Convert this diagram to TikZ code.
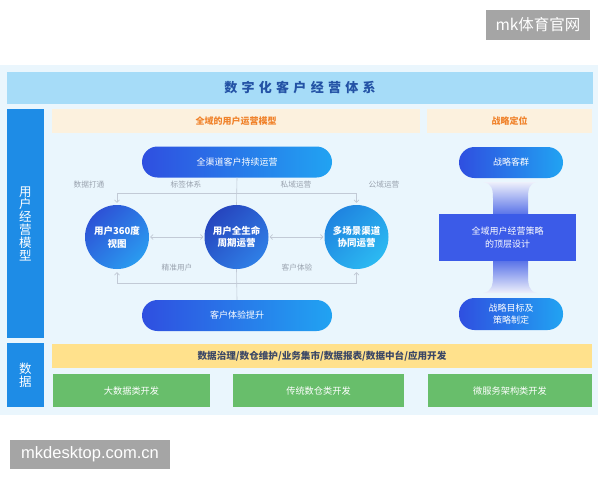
\documentclass[tikz,border=0pt]{standalone}
\usepackage{fontspec}
\setmainfont{Noto Sans CJK SC}
\newfontfamily\wmfont{Liberation Sans}
\usetikzlibrary{arrows.meta}
\definecolor{bgmain}{HTML}{EAF6FD}
\definecolor{titlebar}{HTML}{A6DCF8}
\definecolor{titletext}{HTML}{2352A5}
\definecolor{sidebar}{HTML}{1E8CE6}
\definecolor{hdrbg}{HTML}{FCF1DE}
\definecolor{hdrtext}{HTML}{F0822A}
\definecolor{pillL}{HTML}{2F4FE0}
\definecolor{pillR}{HTML}{21A3F2}
\definecolor{lblgray}{HTML}{9AA3AF}
\definecolor{conncol}{HTML}{C2CAD6}
\definecolor{cAL}{HTML}{2D52D6}
\definecolor{cAR}{HTML}{2A9BF0}
\definecolor{cBL}{HTML}{2645BE}
\definecolor{cBR}{HTML}{2F7FE6}
\definecolor{cCL}{HTML}{1F84E0}
\definecolor{cCR}{HTML}{2CBAF2}
\definecolor{rectblue}{HTML}{3B5BE8}
\definecolor{hglight}{HTML}{EEF0FB}
\definecolor{hgblue}{HTML}{5670E8}
\definecolor{yellowband}{HTML}{FFE18C}
\definecolor{yellowtext}{HTML}{3B4766}
\definecolor{greenbox}{HTML}{68BE6B}
\definecolor{wmgray}{HTML}{A5A5A5}
\begin{document}
\begin{tikzpicture}[x=1pt,y=-1pt,
  pill/.style={rounded corners=15.5pt, left color=pillL, right color=pillR, text=white, inner sep=0pt, align=center, font=\fontsize{9}{12.5}\selectfont},
  bubble/.style={circle, minimum size=64pt, inner sep=0pt, align=center, text=white, font=\bfseries\fontsize{9.5}{12.7}\selectfont},
  lbl/.style={text=lblgray, font=\fontsize{7.7}{9}\selectfont, inner sep=0pt},
  conn/.style={draw=conncol, line width=0.6pt},
  tip/.style={-{Straight Barb[length=2.5pt,width=5pt]}},
  dtip/.style={{Straight Barb[length=2.5pt,width=5pt]}-{Straight Barb[length=2.5pt,width=5pt]}},
  sidebox/.style={fill=sidebar, text=white, inner sep=0pt, align=center, font=\fontsize{12.5}{12.8}\selectfont},
  hdr/.style={fill=hdrbg, text=hdrtext, inner sep=0pt, font=\bfseries\fontsize{9}{10}\selectfont},
  greenb/.style={fill=greenbox, text=white, inner sep=0pt, minimum height=33pt, font=\fontsize{9.2}{11}\selectfont},
  wm/.style={fill=wmgray, text=white, inner sep=0pt}
]
\useasboundingbox (0,0) rectangle (600,480);
\fill[white] (0,0) rectangle (600,480);
% main background
\fill[bgmain] (0,65) rectangle (598,415);
% title bar
\node[fill=titlebar, minimum width=586pt, minimum height=32pt, inner sep=0pt] (title) at (300,88) {};
\node[text=titletext, font=\bfseries\fontsize{13}{15}\selectfont\addfontfeature{LetterSpace=33}] (titletxt) at (300,88) {数字化客户经营体系};
% side bars
\node[sidebox, minimum width=37pt, minimum height=229pt] (side1) at (25.5,223.5) {用\\户\\经\\营\\模\\型};
\node[sidebox, minimum width=37pt, minimum height=64pt] (side2) at (25.5,375) {数\\据};
% headers
\node[hdr, minimum width=368pt, minimum height=24pt] (hdr1) at (236,121) {全域的用户运营模型};
\node[hdr, minimum width=165pt, minimum height=24pt] (hdr2) at (509.5,121) {战略定位};
% pills
\node[pill, minimum width=190pt, minimum height=31pt] (top) at (237,162) {全渠道客户持续运营};
\node[pill, minimum width=190pt, minimum height=31pt] (bot) at (237,315.5) {客户体验提升};
% circles
\node[bubble, left color=cAL, right color=cAR, shading angle=45] (c1) at (117,237) {用户360度\\视图};
\node[bubble, left color=cBL, right color=cBR, shading angle=45] (c2) at (236.5,237) {用户全生命\\周期运营};
\node[bubble, left color=cCL, right color=cCR, shading angle=45] (c3) at (356.5,237) {多场景渠道\\协同运营};
% junction coordinates
\coordinate (jt) at (237,193);
\coordinate (jb) at (237,283);
% connectors
\draw[conn] (top.south) -- (c2.north);
\draw[conn] (c2.south) -- (bot.north);
\draw[conn, tip, shorten >=2pt] (jt) -| (c1.north);
\draw[conn, tip, shorten >=2pt] (jt) -| (c3.north);
\draw[conn, tip, shorten >=3pt] (jb) -| (c1.south);
\draw[conn, tip, shorten >=3pt] (jb) -| (c3.south);
\draw[conn, dtip, shorten <=1pt, shorten >=1pt] (c1) -- (c2);
\draw[conn, dtip, shorten <=1pt, shorten >=1pt] (c2) -- (c3);
% labels
\node[lbl] (l1) at (89,185) {数据打通};
\node[lbl] (l2) at (186,185) {标签体系};
\node[lbl] (l3) at (296,185) {私域运营};
\node[lbl] (l4) at (384,185) {公域运营};
\node[lbl] (l5) at (177,267.5) {精准用户};
\node[lbl] (l6) at (297,267.5) {客户体验};
% right column
\node[pill, minimum width=104pt, minimum height=31pt] (s1) at (511,162.5) {战略客群};
\shade[top color=hglight, bottom color=hgblue] (483,182) -- (537,182) .. controls (529,183) and (528,190) .. (528,198) -- (528,215) -- (493,215) -- (493,198) .. controls (493,190) and (492,183) .. (483,182) -- cycle;
\shade[top color=hgblue, bottom color=hglight] (493,260) -- (528,260) -- (528,276) .. controls (528,284) and (529,292) .. (537,293) -- (483,293) .. controls (492,292) and (493,284) .. (493,276) -- cycle;
\node[fill=rectblue, minimum width=137pt, minimum height=47pt, inner sep=0pt, text=white, align=center, font=\fontsize{9}{12.5}\selectfont] (s2) at (507.5,237.5) {全域用户经营策略\\的顶层设计};
\node[pill, minimum width=104pt, minimum height=32pt, font=\fontsize{9}{12}\selectfont] (s3) at (511,314) {战略目标及\\策略制定};
% data layer
\node[fill=yellowband, minimum width=540pt, minimum height=24pt, inner sep=0pt] (yb) at (322,356) {};
\node[text=yellowtext, font=\bfseries\fontsize{9.6}{11}\selectfont] (ybt) at (322,356) {数据治理/数仓维护/业务集市/数据报表/数据中台/应用开发};
\node[greenb, minimum width=157pt] (g1) at (131.5,390.5) {大数据类开发};
\node[greenb, minimum width=171pt] (g2) at (318.5,390.5) {传统数仓类开发};
\node[greenb, minimum width=164pt] (g3) at (510,390.5) {微服务架构类开发};
% watermarks
\node[wm, minimum width=104pt, minimum height=30pt, font=\fontsize{15.5}{17}\selectfont] (wm1) at (538,25) {mk体育官网};
\node[wm, minimum width=160pt, minimum height=29pt, font=\wmfont\fontsize{16.5}{18}\selectfont] (wm2) at (90,454.5) {mkdesktop.com.cn};
\end{tikzpicture}
\end{document}
